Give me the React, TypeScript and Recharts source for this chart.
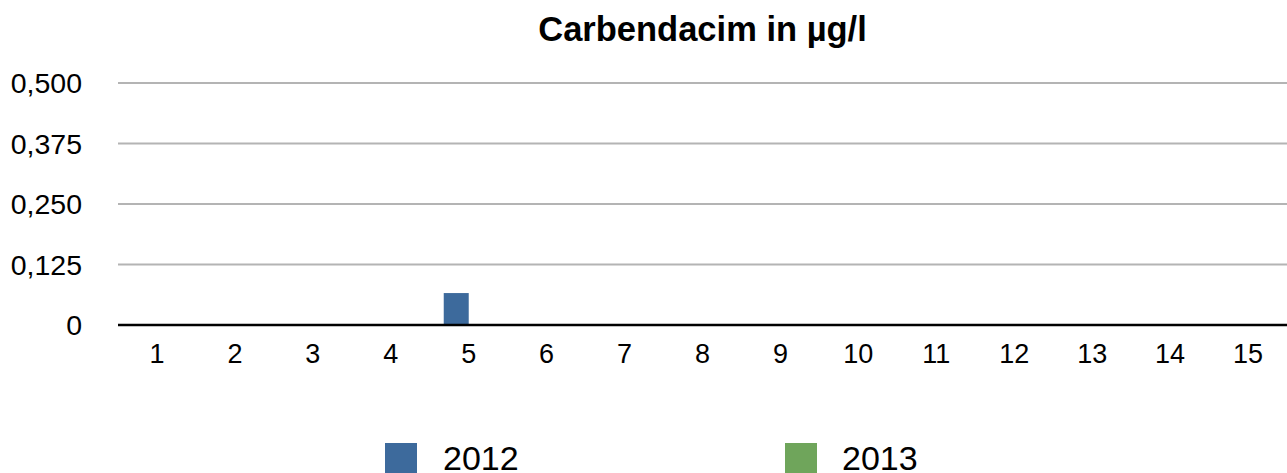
import { BarChart, Bar, CartesianGrid, XAxis, YAxis } from "recharts";

const categories = ["1", "2", "3", "4", "5", "6", "7", "8", "9", "10", "11", "12", "13", "14", "15"];
const values2012 = [0, 0, 0, 0, 0.066, 0, 0, 0, 0, 0, 0, 0, 0, 0, 0];
const values2013 = [0, 0, 0, 0, 0, 0, 0, 0, 0, 0, 0, 0, 0, 0, 0];
const yTicks = [0, 0.125, 0.25, 0.375, 0.5];

const BLUE = "#3d6a9c";
const GREEN = "#6fa55b";
const FONT = "'Liberation Sans', Arial, Helvetica, sans-serif";

const data = categories.map((c, i) => ({ name: c, y2012: values2012[i], y2013: values2013[i] }));

const fmt = (v: number) => (v === 0 ? "0" : v.toFixed(3).replace(".", ","));

export default function App() {
  return (
    <div style={{ position: "fixed", left: 0, top: 0, width: 1287, height: 473, background: "#fff", fontFamily: FONT, overflow: "hidden" }}>
      <div style={{ position: "absolute", left: 118, width: 1169, top: 9, textAlign: "center", fontSize: 34.5, fontWeight: "bold", color: "#000", lineHeight: "40px" }}>
        Carbendacim in µg/l
      </div>
      <BarChart
        width={1287}
        height={473}
        data={data}
        margin={{ top: 83, right: 0, bottom: 88, left: 0 }}
        barGap={0}
        barSize={25}
      >
        <CartesianGrid vertical={false} stroke="#b4b4b4" strokeWidth={2} />
        <XAxis
          dataKey="name"
          height={60}
          tickLine={false}
          axisLine={{ stroke: "#000", strokeWidth: 2.5 }}
          tickMargin={13}
          tick={{ fill: "#000", fontSize: 27, fontFamily: FONT }}
          interval={0}
        />
        <YAxis
          width={118}
          domain={[0, 0.5]}
          ticks={yTicks}
          tickFormatter={fmt}
          tickLine={false}
          axisLine={false}
          tickMargin={30}
          tick={{ fill: "#000", fontSize: 28.5, fontFamily: FONT }}
        />
        <Bar dataKey="y2012" fill={BLUE} isAnimationActive={false} />
        <Bar dataKey="y2013" fill={GREEN} isAnimationActive={false} />
      </BarChart>
      <div style={{ position: "absolute", left: 385, top: 443, width: 32, height: 32, background: BLUE }} />
      <div style={{ position: "absolute", left: 443, top: 438, fontSize: 34, color: "#000", lineHeight: "40px" }}>2012</div>
      <div style={{ position: "absolute", left: 785, top: 443, width: 32, height: 32, background: GREEN }} />
      <div style={{ position: "absolute", left: 842, top: 438, fontSize: 34, color: "#000", lineHeight: "40px" }}>2013</div>
    </div>
  );
}
